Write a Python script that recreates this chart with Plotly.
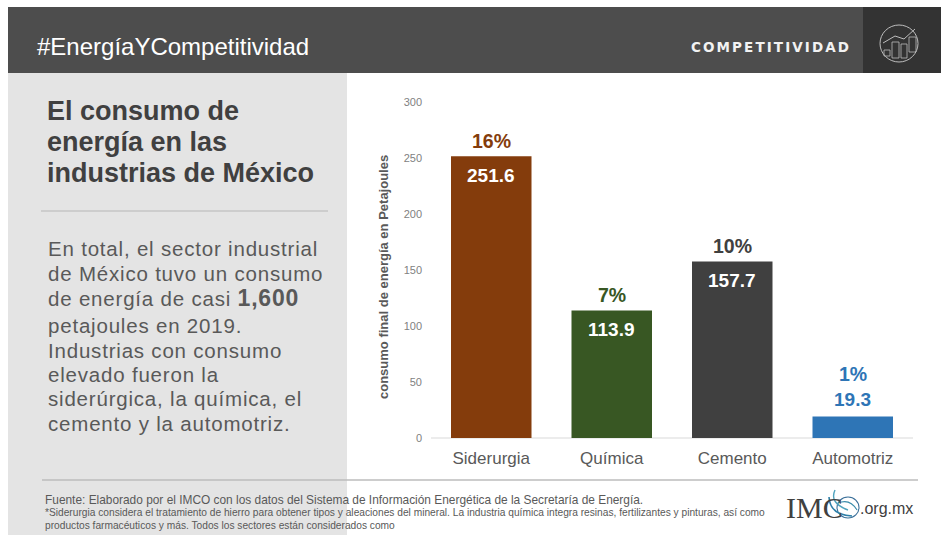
import plotly.graph_objects as go

categories = ["Siderurgia", "Química", "Cemento", "Automotriz"]
values = [251.6, 113.9, 157.7, 19.3]
value_labels = ["251.6", "113.9", "157.7", "19.3"]
shares = ["16%", "7%", "10%", "1%"]
bar_colors = ["#843C0C", "#385723", "#404040", "#2E75B6"]
value_text_colors = ["#FFFFFF", "#FFFFFF", "#FFFFFF", "#2E75B6"]
y_ticks = [0, 50, 100, 150, 200, 250, 300]
y_title = "consumo final de energía en Petajoules"
hashtag = "#EnergíaYCompetitividad"
section = "COMPETITIVIDAD"
heading = ["El consumo de", "energía en las", "industrias de México"]
heading_y = [111, 142, 173]
body = ["En total, el sector industrial", "de México tuvo un consumo",
        "de energía de casi <span style='font-size:23px'><b>1,600</b></span>", "petajoules en 2019.",
        "Industrias con consumo", "elevado fueron la",
        "siderúrgica, la química, el", "cemento y la automotriz."]
body_y = [248, 273, 298, 325, 350, 374, 398, 423]
footer = ["Fuente: Elaborado por el IMCO con los datos del Sistema de Información Energética de la Secretaría de Energía.",
          "*Siderurgia considera el tratamiento de hierro para obtener tipos y aleaciones del mineral. La industria química integra resinas, fertilizantes y pinturas, así como",
          "productos farmacéuticos y más. Todos los sectores están considerados como"]
footer_y = [500, 512, 525]
footer_size = [11.9, 10.2, 10.2]

W, H = 941, 535
px = lambda x: x / W
py = lambda y: 1 - y / H

fig = go.Figure()
fig.add_bar(x=categories, y=values, width=0.668, marker=dict(color=bar_colors, line_width=0),
            showlegend=False, hoverinfo="x+y")

def rect(x0, y0, x1, y1, fill, line=None, lw=0, layer="below"):
    return dict(type="rect", xref="paper", yref="paper", x0=px(x0), x1=px(x1), y0=py(y0), y1=py(y1),
                fillcolor=fill, line=dict(width=lw, color=line or fill), layer=layer)

def seg(x0, y0, x1, y1, color, w=1, layer="above"):
    return dict(type="line", xref="paper", yref="paper", x0=px(x0), x1=px(x1), y0=py(y0), y1=py(y1),
                line=dict(color=color, width=w), layer=layer)

def oval(x0, y0, x1, y1, color, w=1):
    return dict(type="circle", xref="paper", yref="paper", x0=px(x0), x1=px(x1), y0=py(y0), y1=py(y1),
                line=dict(color=color, width=w), layer="above")

def curve(p0, c, p1, color, w=1):
    path = f"M {px(p0[0])} {py(p0[1])} Q {px(c[0])} {py(c[1])} {px(p1[0])} {py(p1[1])}"
    return dict(type="path", xref="paper", yref="paper", path=path, line=dict(color=color, width=w), layer="above")

none = "rgba(0,0,0,0)"
icon = "#BDBDBD"
shapes = [
    rect(8, 73, 347, 535, "#E4E4E4"),
    rect(8, 7, 941, 73, "#4D4D4D"),
    rect(863, 7, 941, 73, "#333333"),
    seg(41, 211, 328, 211, "#C6C6C6", 1.5),
    seg(42, 480, 918, 480, "#BDBDBD", 1.5),
    seg(431, 438, 913, 438, "#D9D9D9", 1, "below"),
    oval(880, 25, 918, 62, icon, 1),
    rect(884, 50, 890, 56, none, icon, 0.8, "above"),
    rect(892, 42, 899, 58, none, icon, 0.8, "above"),
    rect(901, 44, 907, 58, none, icon, 0.8, "above"),
    rect(909, 37, 916, 52, none, icon, 0.8, "above"),
    seg(883, 43, 895, 36, icon, 1),
    seg(895, 36, 904, 39, icon, 1),
    seg(904, 39, 915, 29, icon, 1),
    oval(837, 497, 859, 518, "#3A6F99", 1.1),
    curve((829, 497), (830, 515), (852, 516), "#2E7FA8", 1.6),
    curve((835, 490), (829, 503), (848, 510), "#4FA3BE", 1.4),
    curve((838, 503), (850, 498), (857, 510), "#3A8CAB", 1.2),
]

def note(x, y, text, size, color, anchor="left", family="Liberation Sans", **kw):
    xpos = x - 2 if anchor == "left" else x
    return dict(xref="paper", yref="paper", x=px(xpos), y=py(y), text=text, showarrow=False, xanchor=anchor,
                align=anchor, yanchor="middle", font=dict(family=family, size=size, color=color), **kw)

ann = [note(37, 46, hashtag, 24, "#FFFFFF"),
       note(691, 47, f"<b>{section}</b>", 13.5, "#F2F2F2", "left", "DejaVu Sans"),
       note(786, 507, "IMC", 30, "#404040", family="Liberation Serif"),
       note(860, 508, ".org.mx", 16, "#404040", "left", "Liberation Sans"),
       note(383, 277, f"<b>{y_title}</b>", 13, "#595959", "center", textangle=-90)]
ann += [note(47, y, f"<b>{t}</b>", 27, "#404040") for t, y in zip(heading, heading_y)]
ann += [note(48, y, t, 20.5, "#595959") for t, y in zip(body, body_y)]
ann += [note(45, y, t, s, "#595959") for t, y, s in zip(footer, footer_y, footer_size)]
for c, v, s, lab, col, tcol in zip(categories, values, shares, value_labels, bar_colors, value_text_colors):
    inside = tcol == "#FFFFFF"
    ann.append(dict(x=c, y=v, xref="x", yref="y", text=f"<b>{s}</b>", showarrow=False, yanchor="middle",
                    yshift=15 if inside else 42,
                    font=dict(family="Liberation Sans", size=19.5, color=col)))
    ann.append(dict(x=c, y=v, xref="x", yref="y", text=f"<b>{lab}</b>", showarrow=False, yanchor="middle",
                    yshift=-19 if inside else 17,
                    font=dict(family="Liberation Sans", size=19, color=tcol)))

fig.update_layout(
    width=W, height=H, margin=dict(l=0, r=0, t=0, b=0), paper_bgcolor="#FFFFFF", plot_bgcolor="rgba(0,0,0,0)",
    shapes=shapes, annotations=ann, bargap=0.33, showlegend=False,
    font=dict(family="Liberation Sans"),
    xaxis=dict(domain=[px(431), px(913)], tickfont=dict(size=17, color="#595959"), showgrid=False, zeroline=False,
               showline=False, ticks="", anchor="y", automargin=False, ticklabelstandoff=8),
    yaxis=dict(domain=[py(438), py(102)], range=[0, 300], tickvals=y_ticks, showgrid=False, zeroline=False,
               showline=False, ticks="", tickfont=dict(size=11, color="#7F7F7F"), ticklabelstandoff=8, automargin=False),
)
post = """
document.body.style.margin='0';
function track(){
  document.querySelectorAll('.annotation-text').forEach(function(t){
    var s=t.style.fontSize;
    if(s==='20.5px'){t.style.letterSpacing='0.8px';}
    if(s==='13.5px'){t.style.letterSpacing='2.1px';}
  });
}
track();
var gd=document.getElementById('{plot_id}');
if(gd&&gd.on){gd.on('plotly_afterplot',track);}
"""
fig.write_html("out.html", post_script=post, config=dict(displayModeBar=False))
